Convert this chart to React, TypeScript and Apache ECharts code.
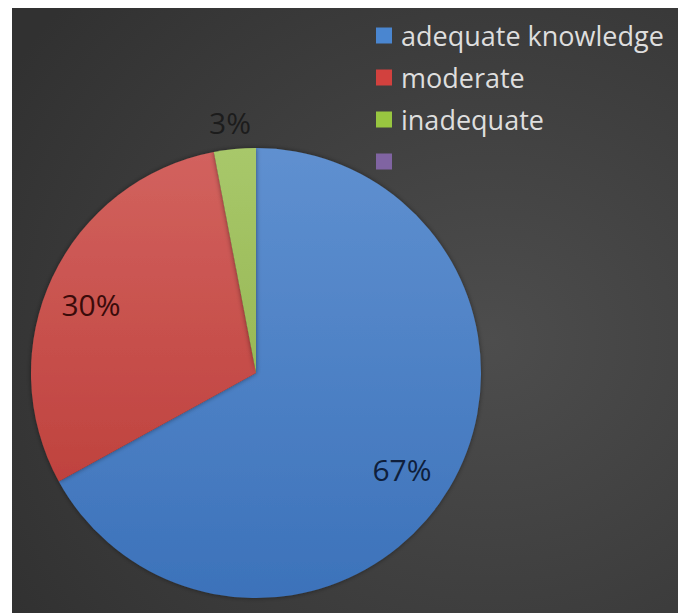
import React, { useEffect, useRef } from "react";
import * as echarts from "echarts";

const categories = ["adequate knowledge", "moderate", "inadequate", " "];
const values = [67, 30, 3, 0];
const percentLabels = ["67%", "30%", "3%", ""];

const colorTop = ["#5f90d0", "#d2625e", "#a8c86a", "#8064a2"];
const colorBottom = ["#3c72ba", "#bf423e", "#98b856", "#8064a2"];
const legendColors = ["#4a86d0", "#d2413e", "#98c640", "#8064a2"];
const labelColors = ["#0f1f3c", "#3a0b0a", "#1c1c1c", "#000"];
const labelPos: [number, number][] = [
  [390, 461],
  [79, 296],
  [218, 114],
  [0, 0],
];

const FONT = "'Open Sans', 'Noto Sans', sans-serif";

export default function App() {
  const ref = useRef<HTMLDivElement>(null);
  useEffect(() => {
    if (!ref.current) return;
    const chart = echarts.init(ref.current, null, { renderer: "svg" });
    const data = categories.map((name, i) => ({
      name,
      value: values[i],
      itemStyle: {
        color: new echarts.graphic.LinearGradient(0, 0, 0, 1, [
          { offset: 0, color: colorTop[i] },
          { offset: 1, color: colorBottom[i] },
        ]),
      },
      label: {
        show: i < 3,
        color: labelColors[i],
        formatter: () => percentLabels[i],
      },
    }));
    chart.setOption({
      animation: false,
      backgroundColor: new echarts.graphic.RadialGradient(0.72, 0.55, 0.85, [
        { offset: 0, color: "#4d4d4d" },
        { offset: 1, color: "#313131" },
      ]),
      color: legendColors,
      legend: {
        orient: "vertical",
        left: 364,
        top: 14,
        padding: 0,
        itemWidth: 16,
        itemHeight: 16,
        itemGap: 15,
        icon: "rect",
        data: categories.map((name, i) => ({
          name,
          itemStyle: { color: legendColors[i] },
        })),
        textStyle: {
          color: "#dedede",
          fontSize: 27,
          lineHeight: 27,
          fontFamily: FONT,
          padding: [0, 0, 0, 4],
        },
      },
      series: [
        {
          type: "pie",
          center: [244, 365],
          radius: 225,
          startAngle: 90,
          clockwise: true,
          data,
          itemStyle: {
            shadowBlur: 5,
            shadowColor: "rgba(0,0,0,0.45)",
          },
          emphasis: { disabled: true },
          label: {
            position: "inside",
            fontSize: 30,
            fontFamily: FONT,
          },
          labelLine: { show: false },
          labelLayout: (params: any) => {
            const p = labelPos[params.dataIndex];
            return { x: p[0], y: p[1], align: "center", verticalAlign: "middle" };
          },
        },
      ],
    });
    return () => chart.dispose();
  }, []);
  return (
    <div
      ref={ref}
      style={{ position: "absolute", left: 12, top: 8, width: 666, height: 605 }}
    />
  );
}
